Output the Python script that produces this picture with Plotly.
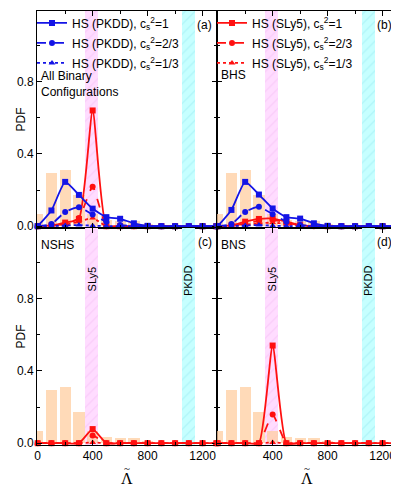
import plotly.graph_objects as go
from plotly.subplots import make_subplots

# -----------------------------
# Data
# -----------------------------
LAMBDA = [0, 100, 200, 300, 400, 500, 600, 700, 800, 900, 1000, 1100, 1200, 1300]

HIST_X = [0, 100, 200, 300, 400, 500, 600, 700, 800]
HIST_Y = [0.065, 0.295, 0.31, 0.172, 0.066, 0.034, 0.027, 0.026, 0.012]
HIST_WIDTH = 82

SLY5_BAND = [347, 441]
PKDD_BAND = [1050, 1147]

# (a) all binary configurations
A_PKDD_1 = [0, 0.087, 0.245, 0.173, 0.097, 0.05, 0.041, 0.016, 0.002, 0, 0, 0, 0, 0]
A_PKDD_23 = [0, 0.012, 0.079, 0.105, 0.064, 0.025, 0.007, 0.001, 0, 0, 0, 0, 0, 0]
A_PKDD_13 = [0, 0.001, 0.004, 0.006, 0.003, 0.001, 0, 0, 0, 0, 0, 0, 0, 0]
A_SLY5_1 = [0, 0.004, 0.02, 0.04, 0.64, 0, 0, 0, 0, 0, 0, 0, 0, 0]
A_SLY5_23 = [0, 0.003, 0.012, 0.045, 0.218, 0, 0, 0, 0, 0, 0, 0, 0, 0]
A_SLY5_13 = [0, 0.001, 0.008, 0.025, 0.045, 0, 0, 0, 0, 0, 0, 0, 0, 0]

# (b) BHS
B_PKDD_1 = [0, 0.09, 0.245, 0.175, 0.098, 0.05, 0.042, 0.016, 0.002, 0, 0, 0, 0, 0]
B_PKDD_23 = [0, 0.012, 0.079, 0.108, 0.066, 0.025, 0.007, 0.001, 0, 0, 0, 0, 0, 0]
B_PKDD_13 = [0, 0.001, 0.004, 0.006, 0.003, 0.001, 0, 0, 0, 0, 0, 0, 0, 0]
B_SLY5_1 = [0, 0.004, 0.025, 0.04, 0.042, 0.025, 0.006, 0.001, 0, 0, 0, 0, 0, 0]
B_SLY5_23 = [0, 0.002, 0.015, 0.03, 0.035, 0.02, 0.004, 0, 0, 0, 0, 0, 0, 0]
B_SLY5_13 = [0, 0, 0.008, 0.015, 0.02, 0.012, 0.002, 0, 0, 0, 0, 0, 0, 0]

# (c) NSHS
C_SLY5_1 = [0, 0, 0, 0, 0.078, 0, 0, 0, 0, 0, 0, 0, 0, 0]
C_SLY5_23 = [0, 0, 0, 0, 0.042, 0, 0, 0, 0, 0, 0, 0, 0, 0]
C_SLY5_13 = [0, 0, 0, 0, 0.004, 0, 0, 0, 0, 0, 0, 0, 0, 0]

# (d) BNS
D_SLY5_1 = [0, 0, 0, 0, 0.54, 0, 0, 0, 0, 0, 0, 0, 0, 0]
D_SLY5_23 = [0, 0, 0, 0, 0.158, 0, 0, 0, 0, 0, 0, 0, 0, 0]
D_SLY5_13 = [0, 0, 0, 0, 0.004, 0, 0, 0, 0, 0, 0, 0, 0, 0]

CS2_LABELS = ["1", "2/3", "1/3"]

BLUE = "#1414E6"
RED = "#FF1010"
FONT = "Liberation Sans, Arial, sans-serif"
SERIF = "Liberation Serif, serif"

# the page body has an 8px default margin, so the figure is sized to end at the window edge
FIG_W, FIG_H = 391, 485
M_L, M_R, M_T, M_B = 29, 2, 3, 48
PLOT_W = FIG_W - M_L - M_R

panels = [
    # row, col, tag, name, sly5 series, pkdd series
    (1, 1, "(a)", "All Binary<br>Configurations",
     [A_SLY5_1, A_SLY5_23, A_SLY5_13], [A_PKDD_1, A_PKDD_23, A_PKDD_13]),
    (1, 2, "(b)", "BHS",
     [B_SLY5_1, B_SLY5_23, B_SLY5_13], [B_PKDD_1, B_PKDD_23, B_PKDD_13]),
    (2, 1, "(c)", "NSHS", [C_SLY5_1, C_SLY5_23, C_SLY5_13], None),
    (2, 2, "(d)", "BNS", [D_SLY5_1, D_SLY5_23, D_SLY5_13], None),
]

styles = [("solid", "square"), ("dash", "circle"), ("dot", "triangle-up")]

fig = make_subplots(rows=2, cols=2, horizontal_spacing=0, vertical_spacing=0)

for row, col, tag, name, sly5, pkdd in panels:
    # EOS bands (hatched)
    for band, bg, fg in [(SLY5_BAND, "#FFDCFF", "#F2B4F2"),
                         (PKDD_BAND, "#C6FFFF", "#8EE6EE")]:
        fig.add_trace(go.Bar(
            x=[(band[0] + band[1]) / 2], y=[1.2], base=[-0.01],
            width=[band[1] - band[0]],
            marker=dict(color=bg, line_width=0,
                        pattern=dict(shape="/", fgcolor=fg, bgcolor=bg,
                                     size=7, solidity=0.15)),
            showlegend=False, hoverinfo="skip"
        ), row=row, col=col)

    # histogram
    fig.add_trace(go.Bar(
        x=HIST_X, y=HIST_Y, width=HIST_WIDTH,
        marker=dict(color="rgba(255,205,160,0.75)", line_width=0),
        showlegend=False
    ), row=row, col=col)

    # SLy5 (red)
    for i, ys in enumerate(sly5):
        dash, sym = styles[i]
        fig.add_trace(go.Scatter(
            x=LAMBDA, y=ys, mode="lines+markers",
            line=dict(color=RED, width=1.8, dash=dash, shape="spline", smoothing=0.5),
            marker=dict(color=RED, size=6, symbol=sym),
            cliponaxis=False,
            name="HS (SLy5), c<sub>s</sub><sup>2</sup>=" + CS2_LABELS[i],
            legendgroup="sly5_" + str(i),
            legend="legend2", showlegend=(tag == "(b)")
        ), row=row, col=col)

    # PKDD (blue)
    if pkdd is not None:
        for i, ys in enumerate(pkdd):
            dash, sym = styles[i]
            fig.add_trace(go.Scatter(
                x=LAMBDA, y=ys, mode="lines+markers",
                line=dict(color=BLUE, width=1.8, dash=dash, shape="spline", smoothing=0.5),
                marker=dict(color=BLUE, size=6, symbol=sym),
                cliponaxis=False,
                name="HS (PKDD), c<sub>s</sub><sup>2</sup>=" + CS2_LABELS[i],
                legendgroup="pkdd_" + str(i),
                legend="legend", showlegend=(tag == "(a)")
            ), row=row, col=col)

    sub = "" if (row == 1 and col == 1) else str((row - 1) * 2 + col)
    xref = "x" + sub + " domain"
    yref = "y" + sub + " domain"

    fig.add_annotation(x=0.985, y=0.975, xref=xref, yref=yref, text=tag,
                       showarrow=False, xanchor="right", yanchor="top",
                       font=dict(size=12, family=FONT, color="black"))
    if row == 1 and col == 1:
        fig.add_annotation(x=0.01, y=0.74, xref=xref, yref=yref, text=name,
                           showarrow=False, xanchor="left", yanchor="top", align="left",
                           font=dict(size=12, family=FONT, color="black"))
    elif row == 1:
        fig.add_annotation(x=0.01, y=0.745, xref=xref, yref=yref, text=name,
                           showarrow=False, xanchor="left", yanchor="top",
                           font=dict(size=12, family=FONT, color="black"))
    else:
        fig.add_annotation(x=0.01, y=0.965, xref=xref, yref=yref, text=name,
                           showarrow=False, xanchor="left", yanchor="top",
                           font=dict(size=12, family=FONT, color="black"))
        # band labels
        xd = "x" + sub
        yd = "y" + sub
        fig.add_annotation(x=(SLY5_BAND[0] + SLY5_BAND[1]) / 2, y=0.91, xref=xd, yref=yd,
                           text="SLy5", textangle=-90, showarrow=False,
                           font=dict(size=11, family=FONT, color="black"))
        fig.add_annotation(x=(PKDD_BAND[0] + PKDD_BAND[1]) / 2, y=0.9, xref=xd, yref=yd,
                           text="PKDD", textangle=-90, showarrow=False,
                           font=dict(size=11, family=FONT, color="black"))
        # x title: Lambda with a tilde on top
        fig.add_annotation(x=0.5, y=-0.155, xref=xref, yref=yref, text="\u039b",
                           showarrow=False, xanchor="center", yanchor="middle",
                           font=dict(size=16, family=SERIF, color="black"))
        fig.add_annotation(x=0.5, y=-0.104, xref=xref, yref=yref, text="~",
                           showarrow=False, xanchor="center", yanchor="middle",
                           font=dict(size=11, family=SERIF, color="black"))
    if col == 1:
        fig.add_annotation(x=-(M_L - 3) / PLOT_W, y=0.5, xref="paper", yref=yref, text="PDF",
                           textangle=-90, showarrow=False,
                           font=dict(size=12, family=FONT, color="black"))

# -----------------------------
# Axes
# -----------------------------
for row in (1, 2):
    for col in (1, 2):
        fig.update_xaxes(
            range=[-5, 1305], tickvals=[0, 400, 800, 1200],
            ticktext=(["0", "400", "800", "1200"] if col == 1 else ["", "400", "800", "1200"]),
            showticklabels=(row == 2), automargin=False,
            ticks="inside", ticklen=5, tickcolor="black", tickwidth=1,
            minor=dict(ticks="inside", ticklen=3, tickvals=[200, 600, 1000], tickcolor="black"),
            showline=True, linecolor="black", linewidth=1, mirror="allticks",
            showgrid=False, zeroline=False,
            tickfont=dict(size=12, family=FONT, color="black"),
            row=row, col=col
        )
        fig.update_yaxes(
            range=[-0.01, 1.19], tickvals=[0, 0.4, 0.8],
            ticktext=["0.0", "0.4", "0.8"],
            showticklabels=(col == 1), automargin=False,
            ticks="inside", ticklen=5, tickcolor="black", tickwidth=1,
            minor=dict(ticks="inside", ticklen=3, tickvals=[0.2, 0.6, 1.0], tickcolor="black"),
            showline=True, linecolor="black", linewidth=1, mirror="allticks",
            showgrid=False, zeroline=False,
            tickfont=dict(size=12, family=FONT, color="black"),
            row=row, col=col
        )

legend_style = dict(
    xref="paper", yref="paper", xanchor="left", yanchor="top",
    bgcolor="rgba(0,0,0,0)", borderwidth=0, tracegroupgap=1,
    itemwidth=30, font=dict(size=12, family=FONT, color="black"),
)

fig.update_layout(
    width=FIG_W, height=FIG_H,
    margin=dict(l=M_L, r=M_R, t=M_T, b=M_B, autoexpand=False),
    plot_bgcolor="white", paper_bgcolor="white",
    barmode="overlay", bargap=0,
    legend=dict(x=-5 / PLOT_W, y=1.006, **legend_style),
    legend2=dict(x=0.5 - 5 / PLOT_W, y=1.006, **legend_style),
    font=dict(family=FONT, color="black"),
)

fig.write_html("out.html")
